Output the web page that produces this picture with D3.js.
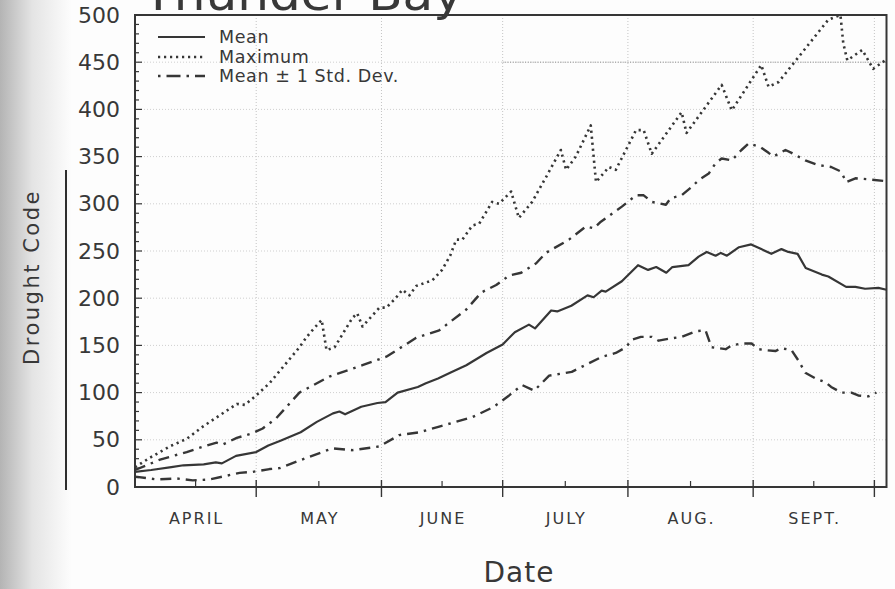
<!DOCTYPE html>
<html><head><meta charset="utf-8">
<script src="https://cdn.jsdelivr.net/npm/d3@7"></script>
<style>
html,body{margin:0;padding:0;background:#fdfdfd;}
svg{display:block;}
text{font-family:"DejaVu Sans",sans-serif;fill:#383838;}
</style></head>
<body>
<svg id="chart" width="895" height="589"></svg>
<script>
// ---- data (day index counted from April 1) ----
const monthStarts = [0, 30, 61, 91, 122, 153, 183];
const monthLabels = ["APRIL", "MAY", "JUNE", "JULY", "AUG.", "SEPT."];
const yTicks = [0, 50, 100, 150, 200, 250, 300, 350, 400, 450, 500];

const meanPts = [[0,16],[4,18],[9,21],[12,23],[17,24],[20,26],[21.5,25],[25,33],[30,37],[33,44],[36,49],[41,58],[45,69],[49,78],[50.6,80],[52,77],[56,85],[60,89],[62,90],[65,100],[70,106],[72,110],[75,115],[78,121],[82,129],[87,142],[91,151],[94,164],[97.5,172],[99,168],[103,187],[104.5,186],[108,192],[112,203],[113.5,201],[115.5,208],[116.5,207],[120.5,218],[124.5,235],[127,230],[129,233],[131.5,227],[133,233],[137,235],[139.5,244],[141.5,249],[143.7,245],[145,248],[146.5,245],[149.5,254],[152.5,257],[155,252],[157.5,247],[160,252],[161.7,249],[164,247],[166,232],[170,225],[171.6,223],[176,212],[178.3,212],[180.7,210],[184,211],[186,209]];

const maxPts = [[0,21],[3.7,31],[8.6,43],[12.8,51],[16.8,64],[21,76],[25.2,88],[27.2,87],[30,97],[33.3,110],[40.7,148],[42.5,159],[44.5,169],[46.2,177],[47.4,145],[49.4,148],[53.8,179],[55,184],[56.3,170],[60.5,190],[62.2,190],[64.5,200],[66.2,209],[67.9,203],[69.6,213],[73.6,219],[76,230],[78,245],[79.5,262],[81,262],[83.5,277],[85.2,279],[88.4,302],[90.1,300],[93.1,313],[95,285],[98.3,302],[101.7,328],[105.4,357],[106.7,336],[109.1,350],[112.8,383],[114.1,323],[117.3,339],[119,336],[124,378],[125.9,378],[127.9,353],[135.3,397],[136.5,375],[145.2,426],[147.7,399],[155,447],[156.8,424],[159.3,429],[171.6,495],[174.6,500],[175.3,470],[176.3,452],[180,463],[182.7,443],[185.7,452]];

const upperPts = [[0,18],[6.2,29],[12.8,37],[17.8,44],[20.2,47],[21.7,45],[25.2,52],[29.1,57],[31.6,62],[35,73],[40.7,100],[48.1,117],[56.3,129],[62.2,138],[69.6,158],[75.3,166],[82,188],[85.7,206],[89.4,214],[92.6,224],[95.6,227],[99.3,237],[101.7,248],[107.4,262],[111.6,276],[113.6,274],[115.3,281],[120.5,297],[124,309],[125.9,309],[127.9,302],[131.4,299],[132.6,306],[135.3,309],[137.8,318],[139.5,325],[142,332],[143.7,343],[145.2,348],[147.7,346],[150.1,357],[151.9,364],[154.8,360],[156.8,354],[158,350],[161,357],[162.5,354],[165.9,346],[169.1,341],[172.3,339],[174.8,334],[176,323],[178.3,327],[181.5,326],[185.7,324]];

const lowerPts = [[0,11],[5.4,8],[10.4,9],[14.3,7],[18.5,8],[21.7,11],[25.9,15],[29.1,16],[33.3,19],[35.8,20],[42.5,31],[48.9,41],[53.8,39],[60.5,43],[65.4,55],[70.4,58],[75.3,64],[83.5,74],[88.4,84],[90.1,89],[92.6,97],[95.8,108],[98.8,102],[102.5,118],[108.1,122],[112.3,131],[115.6,138],[119,142],[121.5,148],[123,156],[125.2,159],[127.9,159],[129.6,155],[132.1,157],[135.3,159],[138.8,165],[141.2,166],[142.7,148],[146.2,146],[147.7,150],[150.1,152],[152.6,152],[154.3,146],[156,145],[158.5,144],[160,147],[162.5,145],[164.2,134],[165.9,121],[168.4,115],[170.9,111],[172.3,106],[174.8,100],[177.3,100],[179,97],[181.5,96],[183.5,100]];

const legendItems = [
  {label: "Mean", style: "solid"},
  {label: "Maximum", style: "dot"},
  {label: "Mean \u00b1 1 Std. Dev.", style: "dashdot"}
];

// ---- drawing ----
const svg = d3.select("#chart");
const ink = "#363636";
const dashFor = {solid: null, dot: "2.2,3.8", dashdot: "11,6,2.5,6"};
const widthFor = {solid: 2.2, dot: 2.6, dashdot: 2.4};

// scanned page shading on the left edge
const defs = svg.append("defs");
const grad = defs.append("linearGradient").attr("id", "edge").attr("x1", 0).attr("x2", 1).attr("y1", 0).attr("y2", 0);
grad.append("stop").attr("offset", 0).attr("stop-color", "#b4b4b4");
grad.append("stop").attr("offset", 0.45).attr("stop-color", "#e4e4e4");
grad.append("stop").attr("offset", 1).attr("stop-color", "#fdfdfd");
svg.append("rect").attr("x", 0).attr("y", 0).attr("width", 72).attr("height", 589).attr("fill", "url(#edge)");

const x = d3.scaleLinear().domain([0, 186]).range([135, 886.5]);
const y = d3.scaleLinear().domain([0, 500]).range([487, 15]);

// grid
const grid = svg.append("g");
grid.selectAll("line.v").data(monthStarts.slice(1)).join("line")
  .attr("x1", d => x(d)).attr("x2", d => x(d)).attr("y1", y(500)).attr("y2", y(0))
  .attr("stroke", "#c4c4c4").attr("stroke-width", 1).attr("stroke-dasharray", "1,2");
grid.selectAll("line.h").data(yTicks.filter(v => v > 0 && v < 500)).join("line")
  .attr("x1", x(0)).attr("x2", x(186)).attr("y1", d => y(d)).attr("y2", d => y(d))
  .attr("stroke", "#cfcfcf").attr("stroke-width", 1).attr("stroke-dasharray", "1,2");
grid.append("line")
  .attr("x1", x(monthStarts[3])).attr("x2", x(186)).attr("y1", y(450)).attr("y2", y(450))
  .attr("stroke", "#8a8a8a").attr("stroke-width", 1).attr("stroke-dasharray", "1,1.5");

// frame
svg.append("rect").attr("x", x(0)).attr("y", y(500)).attr("width", x(186) - x(0)).attr("height", y(0) - y(500))
  .attr("fill", "none").attr("stroke", ink).attr("stroke-width", 2);

// y ticks
const yMinor = d3.range(0, 501, 10);
svg.append("g").selectAll("line").data(yMinor).join("line")
  .attr("x1", x(0)).attr("x2", d => x(0) + (d % 50 === 0 ? 7 : 4))
  .attr("y1", d => y(d)).attr("y2", d => y(d))
  .attr("stroke", ink).attr("stroke-width", 1.2);
svg.append("g").selectAll("text").data(yTicks).join("text")
  .attr("x", 120).attr("y", d => y(d)).attr("text-anchor", "end").attr("dominant-baseline", "central")
  .attr("font-size", 22).text(d => d);

// x ticks
svg.append("g").selectAll("line").data(monthStarts.slice(1)).join("line")
  .attr("x1", d => x(d)).attr("x2", d => x(d)).attr("y1", y(0) - 7).attr("y2", y(0) + 10)
  .attr("stroke", ink).attr("stroke-width", 1.4);
const mids = monthLabels.map((m, i) => (monthStarts[i] + monthStarts[i + 1]) / 2);
svg.append("g").selectAll("line").data(mids).join("line")
  .attr("x1", d => x(d)).attr("x2", d => x(d)).attr("y1", y(0) - 6).attr("y2", y(0))
  .attr("stroke", ink).attr("stroke-width", 1.2);
svg.append("g").selectAll("text").data(monthLabels).join("text")
  .attr("x", (d, i) => x(mids[i]) + 1).attr("y", 524).attr("text-anchor", "middle")
  .attr("font-size", 16).attr("letter-spacing", 2).text(d => d);

// series
const line = d3.line().x(d => x(d[0])).y(d => y(d[1]));
const series = [
  {pts: maxPts, style: "dot"},
  {pts: upperPts, style: "dashdot"},
  {pts: lowerPts, style: "dashdot"},
  {pts: meanPts, style: "solid"}
];
svg.append("g").selectAll("path").data(series).join("path")
  .attr("d", d => line(d.pts)).attr("fill", "none").attr("stroke", ink)
  .attr("stroke-width", d => widthFor[d.style])
  .attr("stroke-dasharray", d => dashFor[d.style])
  .attr("stroke-linejoin", "round");

// legend
const lg = svg.append("g");
const rowY = [37, 57, 76];
legendItems.forEach((it, i) => {
  lg.append("line").attr("x1", 158).attr("x2", 205).attr("y1", rowY[i]).attr("y2", rowY[i])
    .attr("stroke", ink).attr("stroke-width", widthFor[it.style])
    .attr("stroke-dasharray", it.style === "dashdot" ? "2.5,6,14,6" : dashFor[it.style]);
  lg.append("text").attr("x", 219).attr("y", rowY[i]).attr("dominant-baseline", "central")
    .attr("font-size", 17.5).attr("letter-spacing", 0.6).text(it.label);
});

// titles (the reference's title is cropped at the top edge of the scan)
svg.append("text").attr("x", 143).attr("y", 10).attr("font-size", 46)
  .attr("textLength", 320).attr("lengthAdjust", "spacingAndGlyphs").text("Thunder Bay");
svg.append("text").attr("x", 519).attr("y", 582).attr("text-anchor", "middle")
  .attr("font-size", 28).attr("letter-spacing", 1).text("Date");
svg.append("text").attr("transform", "translate(32,277) rotate(-90)")
  .attr("text-anchor", "middle").attr("dominant-baseline", "central")
  .attr("font-size", 21).attr("letter-spacing", 2.5).text("Drought Code");
svg.append("line").attr("x1", 66).attr("x2", 66).attr("y1", 170).attr("y2", 490)
  .attr("stroke", "#2e2e2e").attr("stroke-width", 2);
</script>
</body></html>
